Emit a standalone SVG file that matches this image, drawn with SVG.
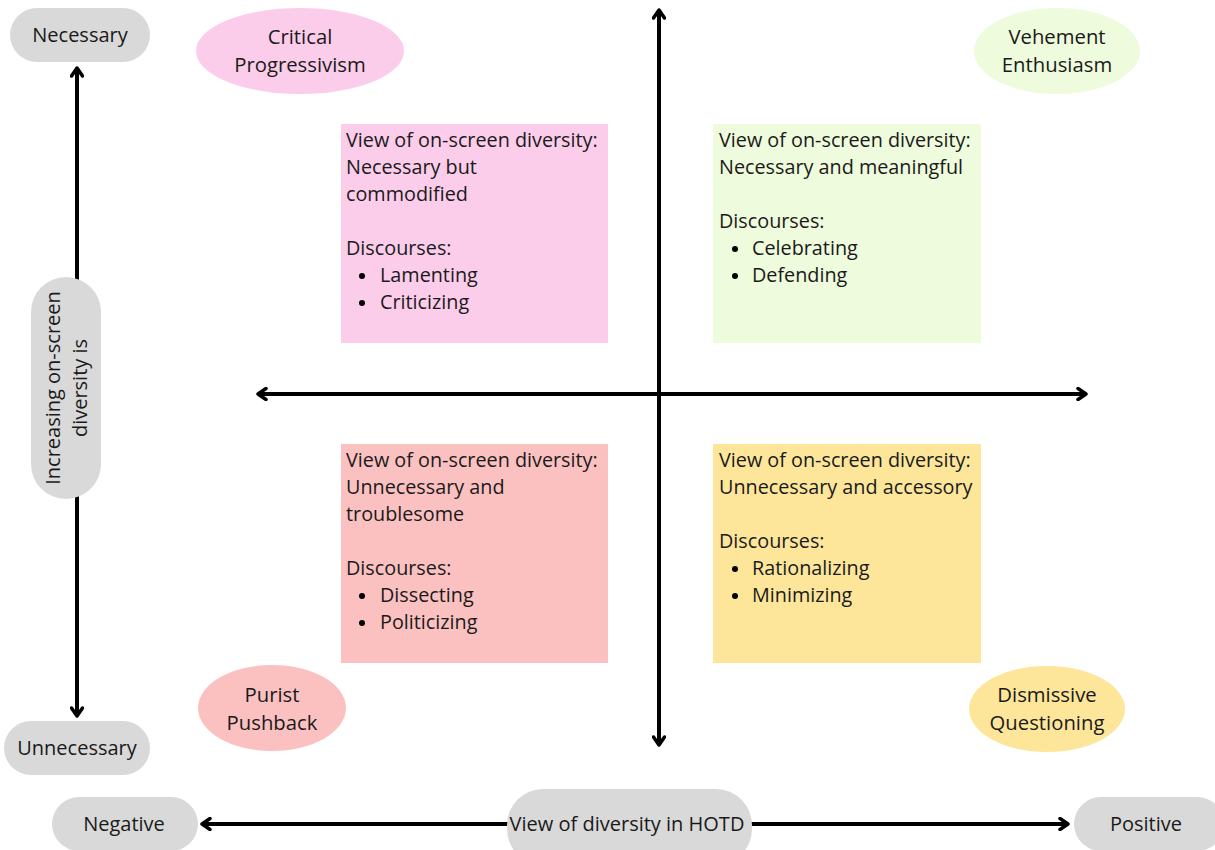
<svg xmlns="http://www.w3.org/2000/svg" width="1215" height="850" viewBox="0 0 1215 850">
<defs>
<marker id="head" viewBox="0 0 12 14" refX="10" refY="7" markerWidth="12" markerHeight="14" markerUnits="userSpaceOnUse" orient="auto-start-reverse">
<polyline points="2,1.5 10,7 2,12.5" fill="none" stroke="#000" stroke-width="3.5" stroke-linecap="round" stroke-linejoin="round"/>
</marker>
<style>
text{font-family:"Open Sans","Noto Sans","Liberation Sans",sans-serif;fill:#1a1a1a;}
.pill{fill:#d9d9d9;}
.lbl{font-size:20px;text-anchor:middle;}
.el{font-size:20.3px;text-anchor:middle;}
.bx{font-size:19.8px;}
.ax{stroke:#000;stroke-width:4;fill:none;marker-start:url(#head);marker-end:url(#head);}
</style>
</defs>
<rect width="1215" height="850" fill="#fff"/>
<g id="connectors">
<line class="ax" x1="77" y1="68" x2="77" y2="716"/>
<line class="ax" x1="659" y1="10" x2="659" y2="745"/>
<line class="ax" x1="258" y1="394" x2="1086" y2="394"/>
<line class="ax" x1="202" y1="824" x2="1068" y2="824"/>
</g>
<g id="necessary"><rect class="pill" x="10" y="8" width="140" height="54" rx="27"/><text class="lbl" x="80" y="42">Necessary</text></g>
<g id="unnecessary"><rect class="pill" x="4" y="721" width="146" height="54" rx="27"/><text class="lbl" x="77" y="755">Unnecessary</text></g>
<g id="y-axis-label"><rect class="pill" x="31" y="277" width="70" height="222" rx="35"/>
<text class="lbl" transform="translate(66,388) rotate(-90)"><tspan x="0" y="-6">Increasing on-screen</tspan><tspan x="0" y="21">diversity is</tspan></text></g>
<g id="negative"><rect class="pill" x="52" y="797" width="146" height="54" rx="27"/><text class="lbl" x="124" y="831">Negative</text></g>
<g id="positive"><rect class="pill" x="1074" y="797" width="150" height="54" rx="27"/><text class="lbl" x="1146" y="831">Positive</text></g>
<g id="x-axis-label"><rect class="pill" x="507" y="789" width="245" height="76" rx="36"/><text class="lbl" x="627" y="831">View of diversity in HOTD</text></g>
<g id="critical-progressivism"><ellipse cx="300" cy="51" rx="104" ry="43" fill="#fbcdea"/><text class="el" x="300" y="44">Critical</text><text class="el" x="300" y="72">Progressivism</text></g>
<g id="vehement-enthusiasm"><ellipse cx="1057" cy="51" rx="83" ry="43" fill="#eefbdc"/><text class="el" x="1057" y="44">Vehement</text><text class="el" x="1057" y="72">Enthusiasm</text></g>
<g id="purist-pushback"><ellipse cx="272" cy="708" rx="74" ry="43" fill="#fbc1c1"/><text class="el" x="272" y="702">Purist</text><text class="el" x="272" y="730">Pushback</text></g>
<g id="dismissive-questioning"><ellipse cx="1047" cy="709" rx="78" ry="43" fill="#fde69a"/><text class="el" x="1047" y="702">Dismissive</text><text class="el" x="1047" y="730">Questioning</text></g>
<g id="box-critical"><rect x="341" y="124" width="267" height="219" fill="#fccdea"/>
<text class="bx"><tspan x="346" y="147">View of on-screen diversity:</tspan><tspan x="346" y="174">Necessary but</tspan><tspan x="346" y="201">commodified</tspan><tspan x="346" y="255">Discourses:</tspan><tspan x="380" y="282">Lamenting</tspan><tspan x="380" y="309">Criticizing</tspan></text>
<circle cx="362" cy="276" r="3"/><circle cx="362" cy="303" r="3"/></g>
<g id="box-vehement"><rect x="713" y="124" width="268" height="219" fill="#eefbdc"/>
<text class="bx"><tspan x="719" y="147">View of on-screen diversity:</tspan><tspan x="719" y="174">Necessary and meaningful</tspan><tspan x="719" y="228">Discourses:</tspan><tspan x="752" y="255">Celebrating</tspan><tspan x="752" y="282">Defending</tspan></text>
<circle cx="735" cy="249" r="3"/><circle cx="735" cy="276" r="3"/></g>
<g id="box-purist"><rect x="341" y="444" width="267" height="219" fill="#fbc1c1"/>
<text class="bx"><tspan x="346" y="467">View of on-screen diversity:</tspan><tspan x="346" y="494">Unnecessary and</tspan><tspan x="346" y="521">troublesome</tspan><tspan x="346" y="575">Discourses:</tspan><tspan x="380" y="602">Dissecting</tspan><tspan x="380" y="629">Politicizing</tspan></text>
<circle cx="362" cy="596" r="3"/><circle cx="362" cy="623" r="3"/></g>
<g id="box-dismissive"><rect x="713" y="444" width="268" height="219" fill="#fde69a"/>
<text class="bx"><tspan x="719" y="467">View of on-screen diversity:</tspan><tspan x="719" y="494">Unnecessary and accessory</tspan><tspan x="719" y="548">Discourses:</tspan><tspan x="752" y="575">Rationalizing</tspan><tspan x="752" y="602">Minimizing</tspan></text>
<circle cx="735" cy="569" r="3"/><circle cx="735" cy="596" r="3"/></g>
</svg>
